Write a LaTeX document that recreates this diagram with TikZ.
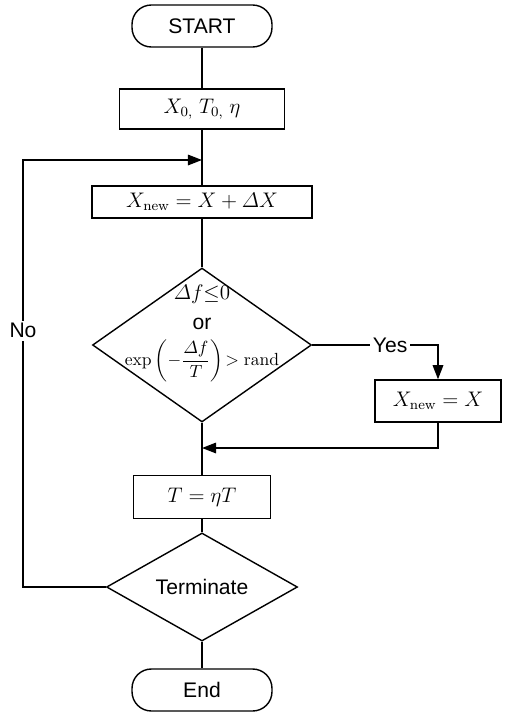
\documentclass[tikz,border=0pt]{standalone}
\usepackage{amsmath}
\usepackage{fontspec}
\setsansfont{Liberation Sans}
\usepackage{tikz}
\usetikzlibrary{shapes.geometric, arrows.meta, positioning, calc}

\begin{document}
\begin{tikzpicture}[
    x=0.02cm, y=-0.02cm,
    line width=0.8pt,
    terminal/.style={draw, rounded corners=11pt, minimum width=2.8cm, minimum height=0.84cm, font=\large\sffamily},
    block/.style={draw, inner sep=2pt, font=\large},
    decision/.style={draw, diamond, inner sep=0pt},
    tag/.style={fill=white, inner sep=1.5pt, font=\large\sffamily},
    arr/.style={-{Triangle[length=8pt, width=6pt]}},
]
\useasboundingbox (0,0) rectangle (508,713);

\node[terminal] (start) at (202,26) {START};
\node[block, minimum width=3.3cm, minimum height=0.8cm] (init) at (202,109) {$X_{0,}\;T_{0,}\;\eta$};
\node[block, minimum width=4.4cm, minimum height=0.64cm] (move) at (202,202) {$X_{\mathrm{new}} = X + \varDelta X$};
\node[decision, minimum width=4.38cm, minimum height=3.08cm,
      label={[align=center, yshift=0.23cm, font=\large]center:$\varDelta f{\le}0$\\[3pt] {\sffamily or}\\[5pt] {\normalsize$\exp\left(-\dfrac{\varDelta f}{T}\right)\!>\mathrm{rand}$}}] (accept) at (202,345) {};
\node[block, minimum width=2.52cm, minimum height=0.84cm] (keep) at (438,401) {$X_{\mathrm{new}} = X$};
\node[block, minimum width=2.74cm, minimum height=0.86cm] (cool) at (202,497) {$T = \eta T$};
\node[decision, minimum width=3.82cm, minimum height=1.64cm, font=\large\sffamily] (stop) at (202,587) {Terminate};
\node[terminal] (end) at (202,690) {End};

\coordinate (loop) at (202,160);
\coordinate (back) at (23,160);
\coordinate (join) at (202,448);

\draw (start) -- (init);
\draw (init) -- (move);
\draw (move) -- (accept);
\draw[arr] (accept.east) -- node[tag, pos=0.62] {Yes} (accept.east -| keep.north) -- (keep.north);
\draw (accept) -- (cool);
\draw[arr] (keep.south) |- (join);
\draw (cool) -- (stop);
\draw (stop) -- (end);
\draw[arr] (stop.west) -| node[tag, pos=0.8] {No} (back) -- (loop);

\end{tikzpicture}
\end{document}
